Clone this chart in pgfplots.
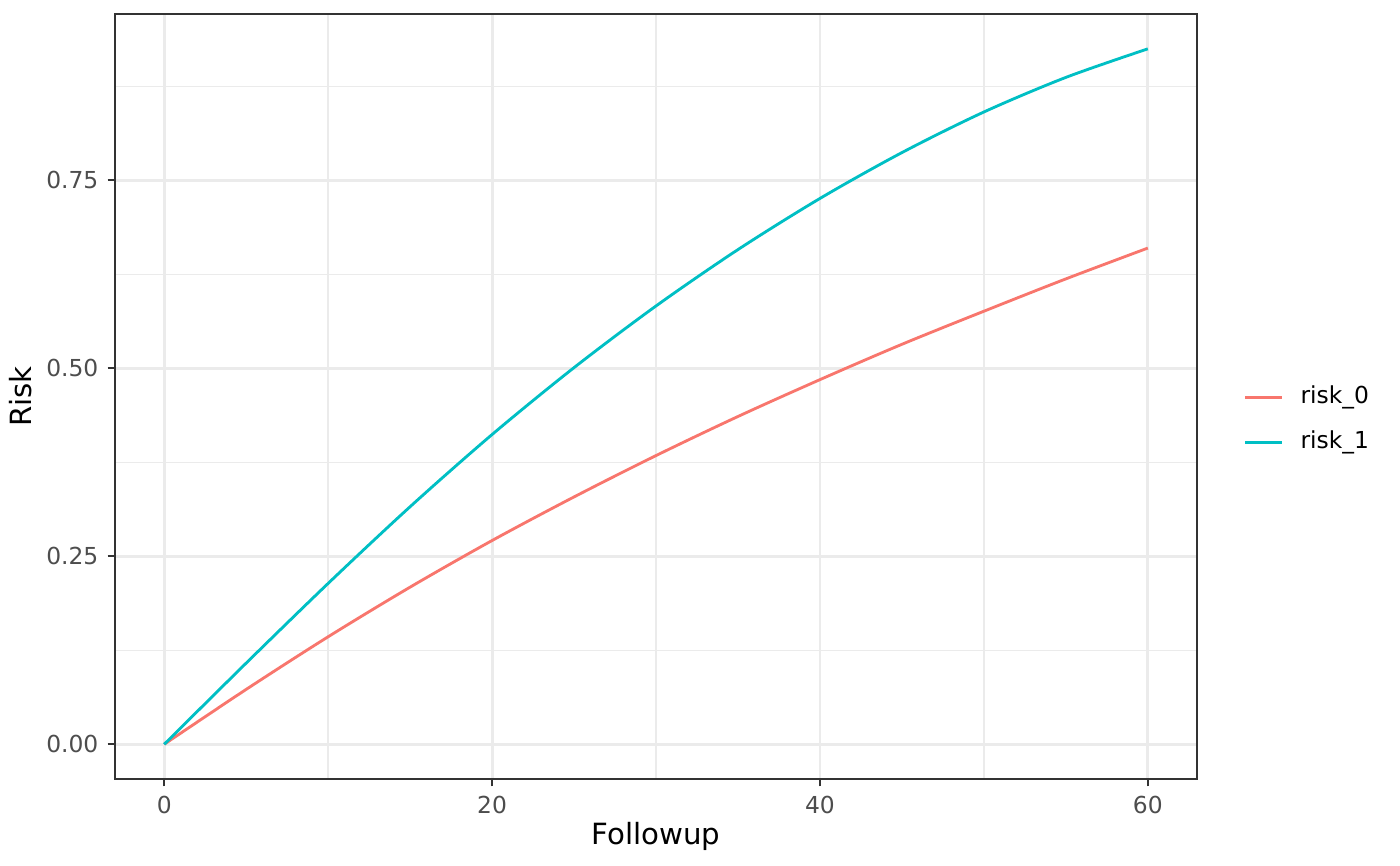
\documentclass[border=0pt]{standalone}
\usepackage{pgfplots}
\pgfplotsset{compat=1.18}
\usepackage{fontspec}
\setmainfont{DejaVu Sans}
\definecolor{cred}{HTML}{F8766D}
\definecolor{ccyan}{HTML}{00BFC4}
\definecolor{gthirty}{HTML}{4D4D4D}
\definecolor{gtwenty}{HTML}{333333}
\definecolor{gridc}{HTML}{EBEBEB}
\begin{document}
\begin{tikzpicture}
\path[use as bounding box] (0,0) rectangle (526.9pt,325.6pt);
\begin{axis}[
  at={(43.3pt,32.4pt)}, anchor=south west,
  scale only axis, width=407.2pt, height=287.9pt,
  xmin=-3, xmax=63, ymin=-0.04625, ymax=0.97125,
  xtick={0,20,40,60}, xticklabels={0,20,40,60},
  ytick={0,0.25,0.5,0.75}, yticklabels={0.00,0.25,0.50,0.75},
  minor xtick={10,30,50}, minor ytick={0.125,0.375,0.625,0.875},
  grid=both,
  major grid style={gridc, line width=1.07pt},
  minor grid style={gridc, line width=0.53pt},
  tick align=outside, tick pos=left,
  major tick length=2.75pt, minor tick length=0pt,
  tick style={gtwenty, line width=0.8pt},
  axis line style={gtwenty, line width=0.5pt},
  ticklabel style={font=\fontsize{8.8}{10}\selectfont, text=gthirty},
  /pgf/number format/assume math mode=true,
  xlabel={Followup}, ylabel={Risk},
  label style={font=\fontsize{11}{13}\selectfont},
  xlabel style={at={(axis description cs:0.5,-0.0559)}, anchor=north, inner sep=0pt},
  ylabel style={at={(axis description cs:-0.0759,0.5)}, anchor=south, inner sep=0pt},
  legend style={at={(axis description cs:1.0428,0.4694)}, anchor=west, draw=none, fill=none,
    inner sep=0pt, row sep=8.7pt, column sep=6.4pt, font=\fontsize{8.8}{10}\selectfont,
    nodes={inner sep=0pt, text height=6.5pt, text depth=2pt}},
  legend cell align=left,
  legend image code/.code={\draw[#1, line width=1.07pt] (0pt,0pt) -- (13.9pt,0pt);},
]
\addplot[cred, line width=1.07pt, smooth] coordinates {
(0,0) (5,0.073) (10,0.143) (15,0.209) (20,0.271) (25,0.329) (30,0.384)
(35,0.436) (40,0.485) (45,0.532) (50,0.576) (55,0.619) (60,0.660)};
\addlegendentry{risk\_0}
\addplot[ccyan, line width=1.07pt, smooth] coordinates {
(0,0) (5,0.108) (10,0.214) (15,0.316) (20,0.412) (25,0.501) (30,0.583)
(35,0.658) (40,0.726) (45,0.787) (50,0.841) (55,0.887) (60,0.925)};
\addlegendentry{risk\_1}
\end{axis}
\end{tikzpicture}
\end{document}
